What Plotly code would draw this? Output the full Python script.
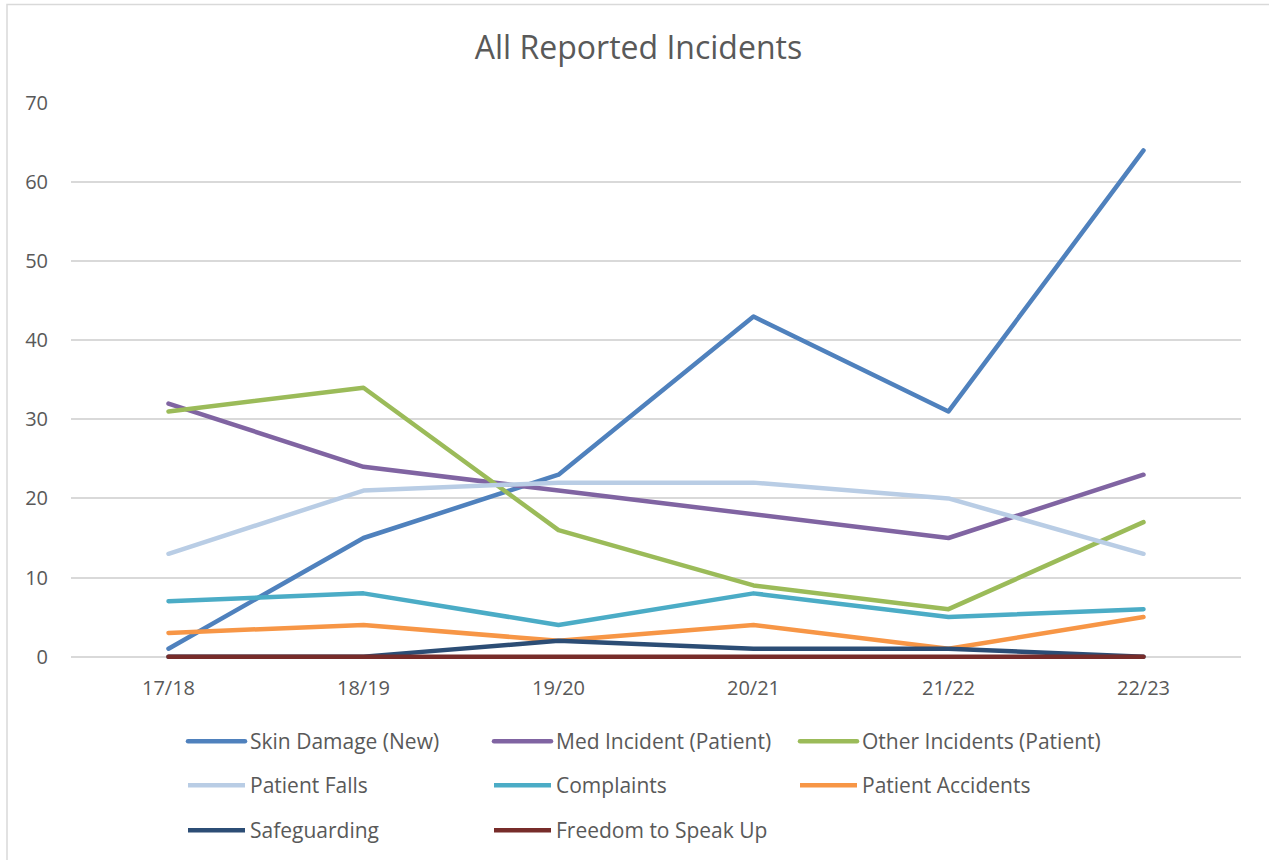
import plotly.graph_objects as go

categories = ["17/18", "18/19", "19/20", "20/21", "21/22", "22/23"]

series_names = [
    "Skin Damage (New)", "Med Incident (Patient)", "Other Incidents (Patient)",
    "Patient Falls", "Complaints", "Patient Accidents",
    "Safeguarding", "Freedom to Speak Up",
]
skin_damage = [1, 15, 23, 43, 31, 64]
med_incident = [32, 24, 21, 18, 15, 23]
other_incidents = [31, 34, 16, 9, 6, 17]
patient_falls = [13, 21, 22, 22, 20, 13]
complaints = [7, 8, 4, 8, 5, 6]
patient_accidents = [3, 4, 2, 4, 1, 5]
safeguarding = [0, 0, 2, 1, 1, 0]
freedom_to_speak_up = [0, 0, 0, 0, 0, 0]

series_values = [skin_damage, med_incident, other_incidents, patient_falls,
                 complaints, patient_accidents, safeguarding, freedom_to_speak_up]
colors = ["#4F81BD", "#8064A2", "#9BBB59", "#B9CDE5",
          "#4BACC6", "#F79646", "#2C4D75", "#772C2A"]
legend_ids = ["legend", "legend", "legend", "legend2", "legend2", "legend2",
              "legend3", "legend3"]

FONT = "Open Sans"
TXT = "#595959"

fig = go.Figure()
for name, vals, col, lg in zip(series_names, series_values, colors, legend_ids):
    fig.add_trace(go.Scatter(
        x=categories, y=vals, name=name, mode="lines",
        line=dict(color=col, width=4.5), legend=lg,
    ))

W, H = 1269, 860
Y_MIN, Y_MAX = -0.3, 70
T = 103
zero_px = 657
unit_px = (zero_px - T) / Y_MAX
bottom_px = zero_px - Y_MIN * unit_px
L, R, B = 71, 28, H - bottom_px
pw, ph = W - L - R, H - T - B

def px_x(p):
    return (p - L) / pw

def px_y(p):
    return (bottom_px - p) / ph

leg_common = dict(
    orientation="h", xanchor="left", yanchor="middle",
    font=dict(family=FONT, size=21, color=TXT),
    itemwidth=57, entrywidth=234, bgcolor="rgba(0,0,0,0)",
    itemclick=False, itemdoubleclick=False,
)
legend_x = px_x(183)

fig.update_layout(
    width=W, height=H,
    margin=dict(l=L, r=R, t=T, b=B, autoexpand=False),
    paper_bgcolor="white", plot_bgcolor="white",
    font=dict(family=FONT, color=TXT),
    title=dict(text="All Reported Incidents", x=638.5 / W, xref="container",
               xanchor="center", y=1 - 48 / H, yref="container", yanchor="middle",
               font=dict(family=FONT, size=32, color=TXT)),
    xaxis=dict(type="category", range=[-0.5, 5.5], showgrid=False, zeroline=False,
               showline=False, ticks="", ticklabelstandoff=15,
               tickfont=dict(family=FONT, size=20, color=TXT)),
    yaxis=dict(range=[Y_MIN, Y_MAX], tick0=0, dtick=10, showgrid=True,
               gridcolor="#D9D9D9", gridwidth=1.5,
               zeroline=False, showline=False, ticks="", ticklabelstandoff=22,
               tickfont=dict(family=FONT, size=20, color=TXT)),
    legend=dict(leg_common, x=legend_x, y=px_y(742)),
    legend2=dict(leg_common, x=legend_x, y=px_y(786)),
    legend3=dict(leg_common, x=legend_x, y=px_y(831)),
    shapes=[dict(type="rect", xref="paper", yref="paper",
                 x0=px_x(7), x1=px_x(1290), y0=px_y(900), y1=px_y(4.5),
                 line=dict(color="#D9D9D9", width=1.5), fillcolor="rgba(0,0,0,0)",
                 layer="below")],
    showlegend=True,
)

round_caps = """
var gd = document.querySelector('.plotly-graph-div');
function rc(){
  document.querySelectorAll('.scatterlayer path.js-line, .legend path.js-line').forEach(function(p){
    p.style.strokeLinecap = 'round'; p.style.strokeLinejoin = 'round';
  });
}
rc();
if (gd && gd.on) { gd.on('plotly_afterplot', rc); }
"""

fig.write_html("out.html", post_script=round_caps)
